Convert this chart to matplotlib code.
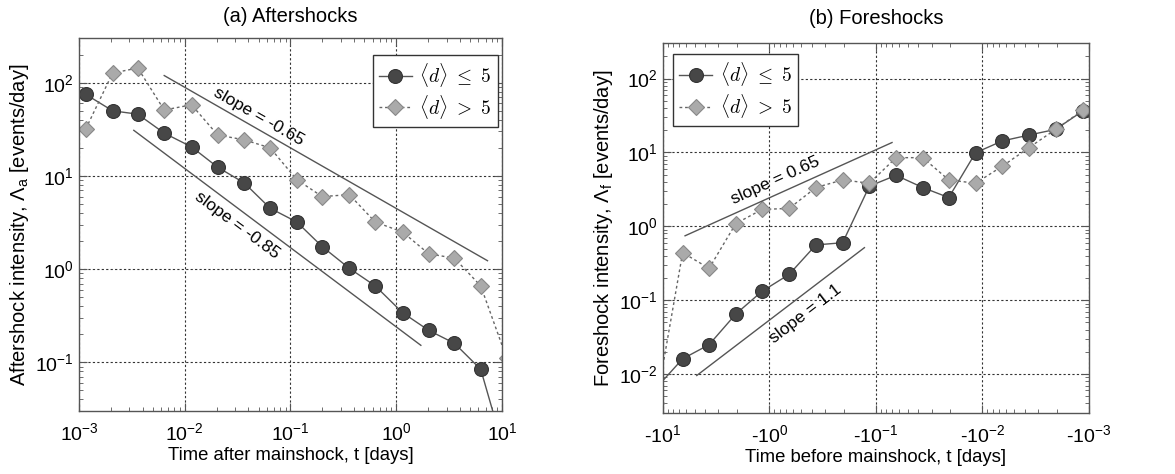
import numpy as np
import matplotlib
matplotlib.use('Agg')
import matplotlib.pyplot as plt
from matplotlib.ticker import LogLocator, FuncFormatter, NullFormatter

plt.rcParams['font.family'] = ['Liberation Sans', 'DejaVu Sans']
plt.rcParams['mathtext.fontset'] = 'cm'

# aftershock rates vs time after the mainshock
t_after = [1.16e-3, 2.08e-3, 3.6e-3, 6.4e-3, 0.0116, 0.0205, 0.0366, 0.0643, 0.115,
           0.2, 0.36, 0.634, 1.15, 2.03, 3.55, 6.3, 11.1]
after_low = [75, 50, 46, 28.8, 20.5, 12.4, 8.4, 4.5, 3.2,
             1.74, 1.02, 0.66, 0.34, 0.22, 0.16, 0.084, 0.009]
after_high = [32, 127, 144, 51, 58, 27.5, 24.4, 20, 9.1,
              6.0, 6.3, 3.2, 2.5, 1.46, 1.31, 0.66, 0.11]

# foreshock rates vs time before the mainshock (|t| in days)
t_before = [11.5, 6.5, 3.67, 2.06, 1.17, 0.65, 0.365, 0.205, 0.115, 0.0646,
            0.0363, 0.0207, 0.0116, 0.00652, 0.00366, 0.00206, 0.00115]
fore_low = [0.0065, 0.0161, 0.025, 0.065, 0.132, 0.224, 0.56, 0.6, 3.5, 4.9,
            3.35, 2.45, 9.9, 14.3, 17.2, 20.5, 36.2]
fore_high = [0.004, 0.44, 0.27, 1.09, 1.69, 1.75, 3.35, 4.25, 3.83, 8.5,
             8.5, 4.25, 3.83, 6.5, 11.6, 20.5, 37]

# reference power laws: (slope, prefactor at |t|=1, t range)
after_fits = [(-0.65, 4.48, (6.4e-3, 7.3)), (-0.85, 0.24, (3.3e-3, 1.71))]
fore_fits = [(-0.65, 2.43, (6.17, 0.0705)), (-1.1, 0.0536, (4.79, 0.128))]

labels = [r'$\langle d\rangle\ \leq\ 5$', r'$\langle d\rangle\ >\ 5$']

low_style = dict(color='#555555', lw=1.0, ls='-', marker='o', ms=10,
                 mfc='#474747', mec='#333333', mew=0.8)
high_style = dict(color='#666666', lw=1.0, ls=(0, (2, 2)), marker='D', ms=8,
                  mfc='#aaaaaa', mec='#888888', mew=0.8)

fig = plt.figure(figsize=(11.75, 4.74), dpi=100)
ax1 = fig.add_axes([0.0672, 0.1329, 0.36, 0.7863])
ax2 = fig.add_axes([0.564, 0.1293, 0.3628, 0.7793])


def style_axes(ax):
    ax.set_xscale('log')
    ax.set_yscale('log')
    for s in ax.spines.values():
        s.set_color('#555555')
        s.set_linewidth(1.0)
    ax.tick_params(which='both', direction='in', top=True, right=True,
                   colors='#555555', labelcolor='black', labelsize=14)
    ax.tick_params(which='major', length=6)
    ax.tick_params(which='minor', length=3)
    ax.xaxis.set_major_locator(LogLocator(base=10, numticks=10))
    ax.xaxis.set_minor_locator(LogLocator(base=10, subs=np.arange(2, 10), numticks=10))
    ax.yaxis.set_major_locator(LogLocator(base=10, numticks=10))
    ax.yaxis.set_minor_locator(LogLocator(base=10, subs=np.arange(2, 10), numticks=10))
    ax.xaxis.set_minor_formatter(NullFormatter())
    ax.yaxis.set_minor_formatter(NullFormatter())
    ax.yaxis.set_major_formatter(FuncFormatter(
        lambda v, p: r'$\mathregular{10^{%d}}$' % round(np.log10(v))))
    ax.grid(True, which='major', color='#333333', ls=(0, (2, 2)), lw=0.8)
    ax.tick_params(axis='x', pad=8)


def add_legend(ax, loc, anchor):
    leg = ax.legend(loc=loc, bbox_to_anchor=anchor, fontsize=14,
                    fancybox=False, framealpha=1, edgecolor='#333333',
                    handlelength=1.7, handletextpad=0.4, borderpad=0.3,
                    labelspacing=0.2, borderaxespad=0)
    leg.get_frame().set_linewidth(1.0)


# (a) aftershocks
style_axes(ax1)
ax1.xaxis.set_major_formatter(FuncFormatter(
    lambda v, p: r'$\mathregular{10^{%d}}$' % round(np.log10(v))))
ax1.plot(t_after, after_low, label=labels[0], **low_style)
ax1.plot(t_after, after_high, label=labels[1], **high_style)
for slope, pref, (ta, tb) in after_fits:
    tt = np.array([ta, tb])
    ax1.plot(tt, pref * tt ** slope, color='#555555', lw=1.0)
ax1.text(0.05, 43, 'slope = -0.65', rotation=-29.7, fontsize=12.5,
         ha='center', va='center', rotation_mode='anchor')
ax1.text(0.0316, 2.97, 'slope = -0.85', rotation=-36.7, fontsize=12.5,
         ha='center', va='center', rotation_mode='anchor')
ax1.set_xlim(1e-3, 10)
ax1.set_ylim(0.03, 300)
ax1.set_xlabel('Time after mainshock, t [days]', fontsize=13.3, labelpad=2)
ax1.set_ylabel(r'Aftershock intensity, $\mathregular{\Lambda_a}$ [events/day]',
               fontsize=14.5, labelpad=3)
ax1.set_title('(a) Aftershocks', fontsize=14.5, pad=12)
add_legend(ax1, 'upper right', (0.99, 0.955))

# (b) foreshocks, time axis runs from -10 days up to the mainshock
style_axes(ax2)
ax2.xaxis.set_major_formatter(FuncFormatter(
    lambda v, p: r'-$\mathregular{10^{%d}}$' % round(np.log10(v))))
ax2.plot(t_before, fore_low, label=labels[0], **low_style)
ax2.plot(t_before, fore_high, label=labels[1], **high_style)
for slope, pref, (ta, tb) in fore_fits:
    tt = np.array([ta, tb])
    ax2.plot(tt, pref * tt ** slope, color='#555555', lw=1.0)
ax2.text(0.87, 4.24, 'slope = 0.65', rotation=24.4, fontsize=12.5,
         ha='center', va='center', rotation_mode='anchor')
ax2.text(0.46, 0.065, 'slope = 1.1', rotation=37.5, fontsize=12.5,
         ha='center', va='center', rotation_mode='anchor')
ax2.set_xlim(10, 1e-3)
ax2.set_ylim(0.003, 300)
ax2.set_xlabel('Time before mainshock, t [days]', fontsize=13.3, labelpad=2)
ax2.set_ylabel(r'Foreshock intensity, $\mathregular{\Lambda_f}$ [events/day]',
               fontsize=14.5, labelpad=3)
ax2.set_title('(b) Foreshocks', fontsize=14.5, pad=14)
add_legend(ax2, 'upper left', (0.025, 0.97))

fig.savefig('out.png', dpi=100)
